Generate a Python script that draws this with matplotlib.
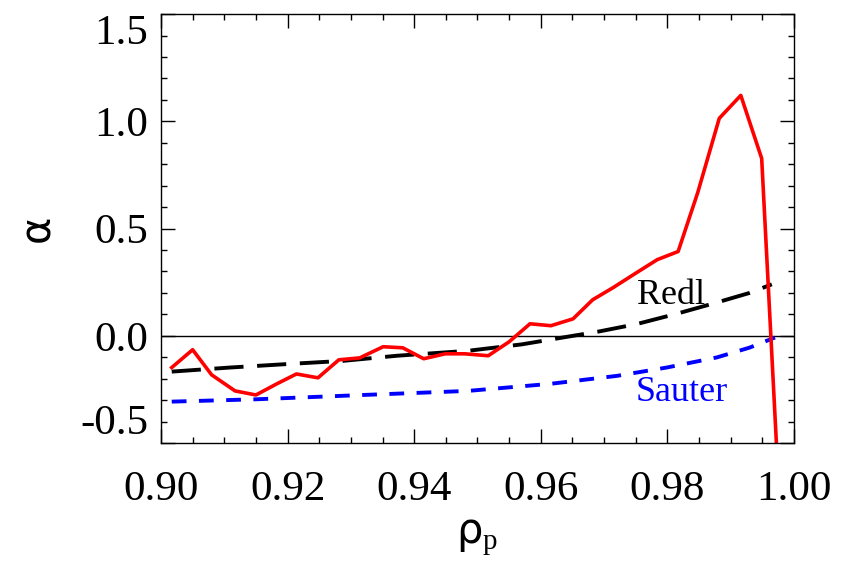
import matplotlib
matplotlib.use("Agg")
import matplotlib.pyplot as plt
from matplotlib.ticker import MultipleLocator, FormatStrFormatter

plt.rcParams['font.family'] = ['Liberation Serif', 'DejaVu Serif']
plt.rcParams['mathtext.fontset'] = 'custom'
plt.rcParams['mathtext.rm'] = 'Liberation Serif'
plt.rcParams['mathtext.sf'] = 'DejaVu Sans'

# measured alpha profile (red)
rho_meas = [0.9017, 0.9050, 0.9080, 0.9117, 0.9150, 0.9183, 0.9214, 0.9248,
            0.9281, 0.9314, 0.9351, 0.9382, 0.9415, 0.9449, 0.9480, 0.9517,
            0.9550, 0.9583, 0.9616, 0.9651, 0.9682, 0.9714, 0.9749, 0.9784,
            0.9817, 0.9848, 0.9882, 0.9916, 0.9949, 0.9974]
alpha_meas = [-0.148, -0.065, -0.182, -0.257, -0.276, -0.224, -0.178, -0.196,
              -0.112, -0.103, -0.051, -0.056, -0.107, -0.084, -0.084, -0.093,
              -0.028, 0.056, 0.047, 0.079, 0.168, 0.224, 0.290, 0.355,
              0.393, 0.668, 1.014, 1.121, 0.827, -0.600]

# Redl model (black dashed)
rho_redl = [0.9017, 0.9109, 0.9204, 0.9287, 0.9373, 0.9485, 0.9570, 0.9651,
            0.9690, 0.9752, 0.9815, 0.9872, 0.9930, 0.9965]
alpha_redl = [-0.167, -0.148, -0.131, -0.117, -0.093, -0.070, -0.040, 0.000,
              0.019, 0.055, 0.103, 0.150, 0.200, 0.240]

# Sauter model (blue dashed)
rho_sauter = [0.9017, 0.9151, 0.9319, 0.9485, 0.9615, 0.9720, 0.9799, 0.9878,
              0.9930, 0.9970]
alpha_sauter = [-0.307, -0.296, -0.276, -0.257, -0.224, -0.187, -0.148, -0.101,
                -0.055, -0.008]

xticks = [0.90, 0.92, 0.94, 0.96, 0.98, 1.00]
yticks = [-0.5, 0.0, 0.5, 1.0, 1.5]

fig = plt.figure(figsize=(8.54, 5.64), dpi=100)
ax = fig.add_axes([0.1885, 0.2145, 0.7412, 0.7605])

ax.axhline(0.0, color='black', lw=1.0)
ax.plot(rho_redl, alpha_redl, color='black', lw=2.8, dashes=(7.5, 3.5))
ax.plot(rho_sauter, alpha_sauter, color='blue', lw=2.8, dashes=(3.8, 3.2))
ax.plot(rho_meas, alpha_meas, color='red', lw=2.6)

ax.text(0.9752, 0.15, 'Redl', fontsize=26, color='black', ha='left', va='baseline')
ax.text(0.9750, -0.304, 'Sauter', fontsize=26, color='blue', ha='left', va='baseline')

ax.set_xlim(0.90, 1.00)
ax.set_ylim(-0.5, 1.5)
ax.set_xticks(xticks)
ax.set_yticks(yticks)
ax.xaxis.set_minor_locator(MultipleLocator(0.005))
ax.yaxis.set_minor_locator(MultipleLocator(0.1))
ax.xaxis.set_major_formatter(FormatStrFormatter('%.2f'))
ax.yaxis.set_major_formatter(FormatStrFormatter('%.1f'))

ax.tick_params(which='both', direction='in', top=True, right=True, width=1.0,
               labelsize=31)
ax.tick_params(axis='x', which='major', pad=20)
ax.tick_params(axis='y', which='major', pad=9)
ax.tick_params(which='major', length=10)
ax.tick_params(which='minor', length=4.5)
for s in ax.spines.values():
    s.set_linewidth(1.0)

# IDL-style: end labels kept inside the axis range
yt = ax.yaxis.get_major_ticks()
yt[0].label1.set_verticalalignment('bottom')
yt[-1].label1.set_verticalalignment('top')

ax.set_xlabel(r'$\mathsf{ρ}_\mathrm{p}$', fontsize=30, labelpad=6)
ax.set_ylabel('α', fontsize=30, labelpad=16, family='DejaVu Sans')

fig.savefig('out.png', dpi=100)
